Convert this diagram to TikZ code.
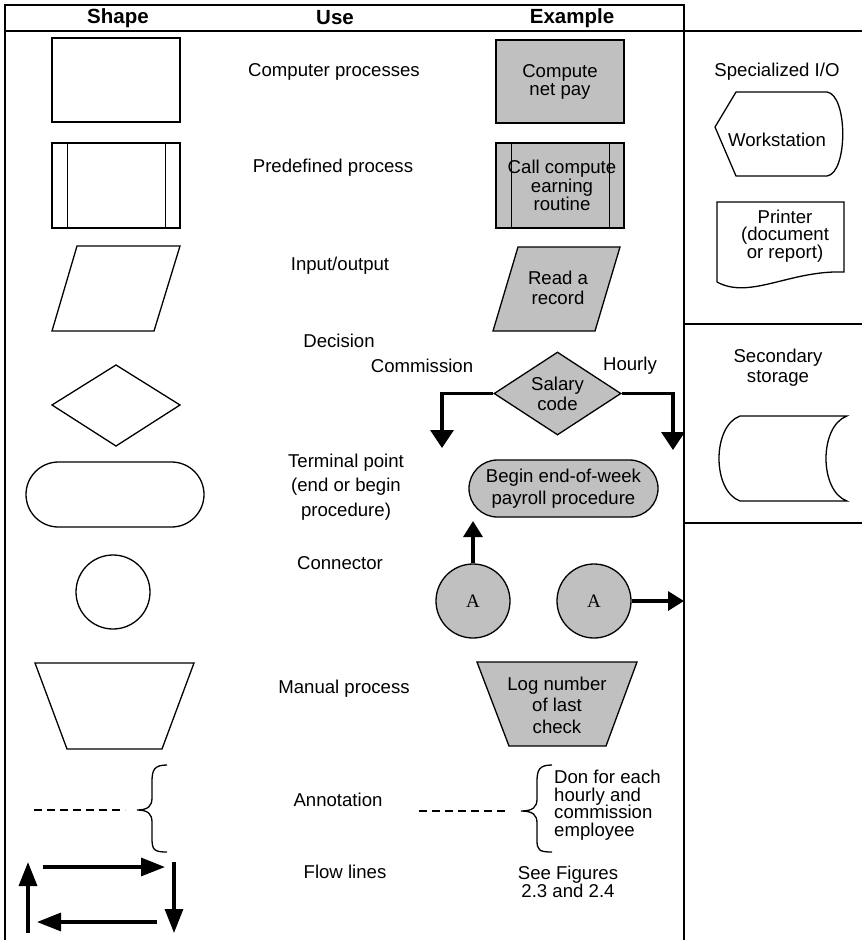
\documentclass[tikz,border=0pt]{standalone}
\usepackage{fontspec}
\setmainfont{Liberation Sans}
\newfontfamily\serifA{Liberation Serif}
\usetikzlibrary{arrows.meta,shapes.geometric}
\definecolor{shgray}{RGB}{192,192,192}
\begin{document}
\begin{tikzpicture}[x=1pt,y=-1pt,
  frame/.style={line width=2.6pt},
  shp/.style={draw,line width=1.3pt,inner sep=0pt},
  ex/.style={shp,fill=shgray},
  txt/.style={font=\fontsize{18.6}{17}\selectfont,align=center,inner sep=0pt},
  txtl/.style={txt,font=\fontsize{18.6}{#1}\selectfont},
  hdr/.style={font=\fontsize{20.5}{22}\selectfont\bfseries,inner sep=0pt},
  flow/.style={line width=3.3pt,-{Triangle[length=24pt,width=18pt]}},
  brarrow/.style={line width=3.3pt,-{Triangle[length=18pt,width=23pt]}},
  cnarrow/.style={line width=3.3pt,-{Triangle[length=16pt,width=19pt]}},
  dashline/.style={line width=1.3pt,dash pattern=on 8pt off 5pt},
]
\useasboundingbox (0,0) rectangle (862,940);
% frame
\draw[frame] (5,940) -- (5,5) -- (684,5) -- (684,940);
\draw[frame] (5,31) -- (862,31);
\draw[frame] (684,324) -- (862,324);
\draw[frame] (684,523) -- (862,523);
% header
\node[hdr] (hshape) at (118,18) {Shape};
\node[hdr] (huse) at (335,18) {Use};
\node[hdr] (hex) at (572,18) {Example};
% left column shapes
\node[shp,minimum width=128pt,minimum height=84pt] (s1) at (116,80) {};
\node[shp,minimum width=128pt,minimum height=85pt] (s2) at (116,185.5) {};
\draw[line width=1.3pt] ([xshift=16pt]s2.north west) -- ([xshift=16pt]s2.south west);
\draw[line width=1.3pt] ([xshift=-15pt]s2.north east) -- ([xshift=-15pt]s2.south east);
\draw[line width=1.3pt] (77,246) -- (180,246) -- (154,331) -- (52,331) -- cycle;
\draw[line width=1.3pt] (52,405) -- (116,365) -- (180,405) -- (116,446) -- cycle;
\node[shp,minimum width=178pt,minimum height=65pt,rounded corners=32.5pt] (s5) at (115,494.5) {};
\node[shp,circle,minimum size=74pt] (s6) at (113,592) {};
\draw[line width=1.3pt] (35,663) -- (194,663) -- (162,749) -- (67,749) -- cycle;
\draw[dashline] (34,810) -- (125,810);
\draw[line width=1.3pt] (167,765) .. controls (154,765) and (152,770) .. (152,782) -- (152,798)
  .. controls (152,806) and (148,810) .. (137,810)
  .. controls (148,810) and (152,814) .. (152,822) -- (152,838)
  .. controls (152,850) and (154,852) .. (167,852);
% flow lines
\coordinate (fa1) at (28,933); \coordinate (fa2) at (28,862);
\coordinate (fb1) at (43,867); \coordinate (fb2) at (165,867);
\coordinate (fc1) at (174,862); \coordinate (fc2) at (174,933);
\coordinate (fd1) at (157,922); \coordinate (fd2) at (37,922);
\draw[flow] (fa1) -- (fa2);
\draw[flow] (fb1) -- (fb2);
\draw[flow] (fc1) -- (fc2);
\draw[flow] (fd1) -- (fd2);
% use column
\node[txt] (u1) at (334,72) {Computer processes};
\node[txt] (u2) at (333,168) {Predefined process};
\node[txt] (u3) at (340,266) {Input/output};
\node[txt] (u4) at (339,341) {Decision};
\node[txt] (u5) at (422,366) {Commission};
\node[txt] (u6) at (630,366) {Hourly};
\node[txtl=24.5] (u7) at (346,487) {Terminal point\\(end or begin\\procedure)};
\node[txt] (u8) at (340,563) {Connector};
\node[txt] (u9) at (344,689) {Manual process};
\node[txt] (u10) at (338,800) {Annotation};
\node[txt] (u11) at (345,872) {Flow lines};
% example column
\node[ex,minimum width=128pt,minimum height=83pt,txtl=18] (e1) at (560,81.5) {Compute\\net pay};
\node[ex,minimum width=128pt,minimum height=85pt,txtl=17] (e2) at (560,185.5) {\hspace*{4pt}Call compute\\\hspace*{4pt}earning\\\hspace*{4pt}routine};
\draw[line width=1.3pt] ([xshift=16pt]e2.north west) -- ([xshift=16pt]e2.south west);
\draw[line width=1.3pt] ([xshift=-15pt]e2.north east) -- ([xshift=-15pt]e2.south east);
\draw[line width=1.3pt,fill=shgray] (518,247) -- (620,247) -- (595,331) -- (493,331) -- cycle;
\node[txtl=20] (e3) at (558,288) {Read a\\record};
\node[ex,diamond,shape aspect=1.55,minimum width=127pt,minimum height=83pt,txtl=20] (e4) at (557.5,393.5) {Salary\\code};
\coordinate (bl) at (442,448);
\coordinate (brr) at (673,450);
\draw[brarrow] (e4.west) -| (bl);
\draw[brarrow] (e4.east) -| (brr);
\node[ex,minimum width=189pt,minimum height=57pt,rounded corners=28.5pt,txtl=22] (e5) at (563.5,488.5) {Begin end-of-week\\payroll procedure};
\node[ex,circle,minimum size=74pt,font=\serifA\fontsize{19}{20}\selectfont] (e6a) at (473,601) {A};
\node[ex,circle,minimum size=74pt,font=\serifA\fontsize{19}{20}\selectfont] (e6b) at (594,601) {A};
\coordinate (tp) at (473,521);
\coordinate (rp) at (684,601);
\draw[cnarrow] (e6a.north) -- (tp);
\draw[cnarrow] (e6b.east) -- (rp);
\draw[line width=1.3pt,fill=shgray] (477,662) -- (637,662) -- (606,746) -- (509,746) -- cycle;
\node[txtl=21.5] (e7) at (557,705) {Log number\\of last\\check};
\draw[dashline] (419,811) -- (508,811);
\draw[line width=1.3pt] (552,765) .. controls (539,765) and (537,770) .. (537,782) -- (537,799)
  .. controls (537,807) and (533,811) .. (521,811)
  .. controls (533,811) and (537,815) .. (537,823) -- (537,840)
  .. controls (537,850) and (539,852) .. (552,852);
\node[txtl=17.5,anchor=west,align=left] (e8) at (554,805) {Don for each\\hourly and\\commission\\employee};
\node[txtl=18] (e9) at (568,882) {See Figures\\2.3 and 2.4};
% right column
\node[txt] (r1) at (777,72) {Specialized I/O};
\draw[line width=1.3pt] (715,127) -- (736,92) -- (827,92) .. controls (848,95) and (848,173) .. (827,176) -- (736,176) -- cycle;
\node[txt] (r2) at (777,140) {Workstation};
\draw[line width=1.3pt] (717,282) -- (717,202) -- (844,202) -- (844,272)
  .. controls (790,270) and (750,300) .. (717,282) -- cycle;
\node[txtl=17.5] (r3) at (785,236) {Printer\\(document\\or report)};
\node[txtl=20] (r4) at (778,368) {Secondary\\storage};
\draw[line width=1.3pt] (740,416) -- (847,416) .. controls (819,426) and (819,491) .. (847,501)
  -- (740,501) .. controls (712,491) and (712,426) .. (740,416) -- cycle;
\end{tikzpicture}
\end{document}
